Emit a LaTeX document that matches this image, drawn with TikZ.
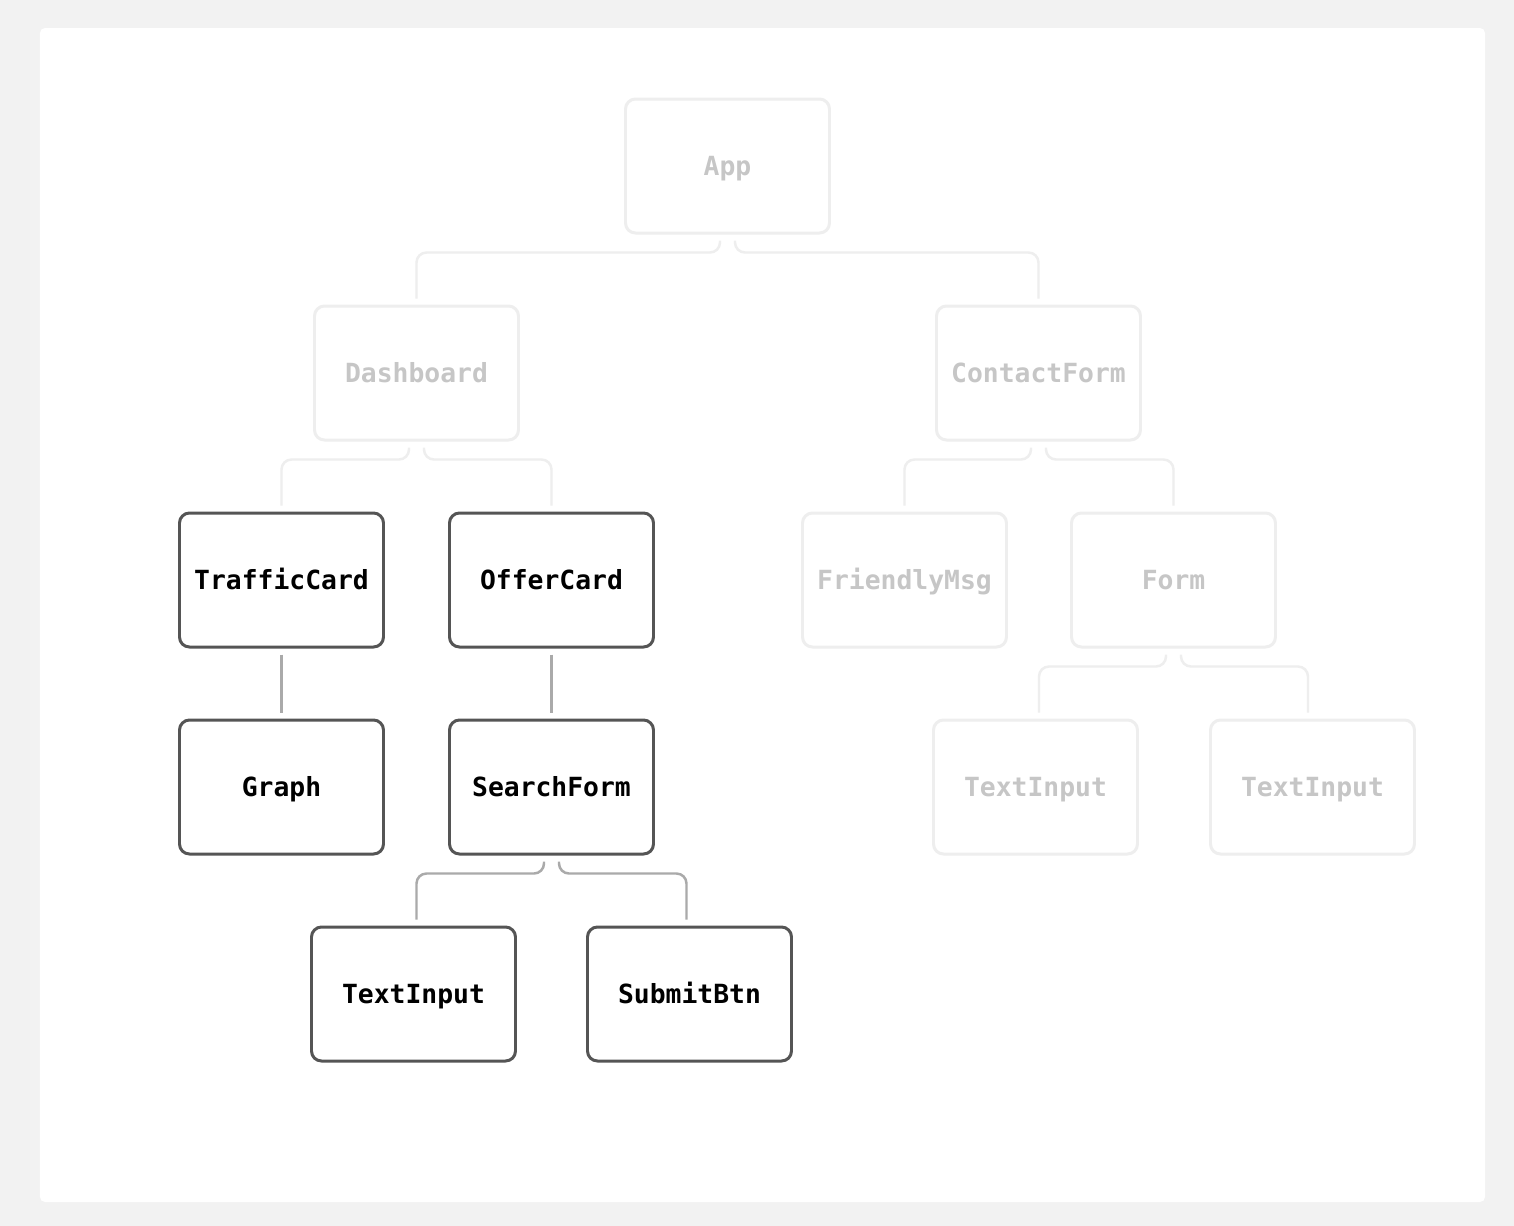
\documentclass[tikz,border=0pt]{standalone}
\usepackage{fontspec}
\setmonofont{DejaVu Sans Mono}
\usetikzlibrary{shapes, arrows}
\definecolor{pagegray}{HTML}{F2F2F2}
\definecolor{darkedge}{HTML}{555555}
\definecolor{darkwire}{HTML}{AAAAAA}
\definecolor{paleedge}{HTML}{EEEEEE}
\definecolor{paletext}{HTML}{C6C6C6}

\begin{document}
\begin{tikzpicture}[node distance=2.07cm, auto]
    \tikzstyle{comp} = [rectangle, draw=darkedge, line width=0.85pt, fill=white, rounded corners=0.1cm, minimum width=2.04cm, minimum height=1.34cm, text height=5.5pt, text depth=0pt, font=\fontsize{7.5}{9}\selectfont\ttfamily\bfseries, text=black]
    \tikzstyle{pale} = [comp, draw=paleedge, text=paletext]
    \tikzstyle{wire} = [draw=darkwire, line width=0.7pt, rounded corners=0.1cm]
    \tikzstyle{palewire} = [wire, draw=paleedge]

    % Page
    \fill[pagegray] (0,0) rectangle (15.14,-12.26);
    \fill[white, rounded corners=0.05cm] (0.40,-0.28) rectangle (14.85,-12.02);

    % Nodes
    \node [pale] (app) at (7.275,-1.66) {App};
    \node [pale, below of=app, xshift=-3.11cm] (dashboard) {Dashboard};
    \node [pale, below of=app, xshift=3.11cm] (contact) {ContactForm};

    \node [comp, below of=dashboard, xshift=-1.35cm] (traffic) {TrafficCard};
    \node [comp, below of=dashboard, xshift=1.35cm] (offer) {OfferCard};
    \node [pale, below of=contact, xshift=-1.34cm] (friendly) {FriendlyMsg};
    \node [pale, below of=contact, xshift=1.35cm] (form) {Form};

    \node [comp, below of=traffic] (graph) {Graph};
    \node [comp, below of=offer] (search) {SearchForm};
    \node [pale, below of=form, xshift=-1.38cm] (forminputa) {TextInput};
    \node [pale, below of=form, xshift=1.39cm] (forminputb) {TextInput};

    \node [comp, below of=search, xshift=-1.38cm] (searchinput) {TextInput};
    \node [comp, below of=search, xshift=1.38cm] (submit) {SubmitBtn};

    % Paths
    \path [palewire] ([xshift=-0.075cm, yshift=-0.06cm]app.south) -- ++(0,-0.12) -| ([yshift=0.06cm]dashboard.north);
    \path [palewire] ([xshift=0.075cm, yshift=-0.06cm]app.south) -- ++(0,-0.12) -| ([yshift=0.06cm]contact.north);
    \path [palewire] ([xshift=-0.075cm, yshift=-0.06cm]dashboard.south) -- ++(0,-0.12) -| ([yshift=0.06cm]traffic.north);
    \path [palewire] ([xshift=0.075cm, yshift=-0.06cm]dashboard.south) -- ++(0,-0.12) -| ([yshift=0.06cm]offer.north);
    \path [palewire] ([xshift=-0.075cm, yshift=-0.06cm]contact.south) -- ++(0,-0.12) -| ([yshift=0.06cm]friendly.north);
    \path [palewire] ([xshift=0.075cm, yshift=-0.06cm]contact.south) -- ++(0,-0.12) -| ([yshift=0.06cm]form.north);
    \path [palewire] ([xshift=-0.075cm, yshift=-0.06cm]form.south) -- ++(0,-0.12) -| ([xshift=0.035cm, yshift=0.06cm]forminputa.north);
    \path [palewire] ([xshift=0.075cm, yshift=-0.06cm]form.south) -- ++(0,-0.12) -| ([xshift=-0.045cm, yshift=0.06cm]forminputb.north);

    \path [wire] ([yshift=-0.06cm]traffic.south) -- ([yshift=0.06cm]graph.north);
    \path [wire] ([yshift=-0.06cm]offer.south) -- ([yshift=0.06cm]search.north);
    \path [wire] ([xshift=-0.075cm, yshift=-0.06cm]search.south) -- ++(0,-0.12) -| ([xshift=0.03cm, yshift=0.06cm]searchinput.north);
    \path [wire] ([xshift=0.075cm, yshift=-0.06cm]search.south) -- ++(0,-0.12) -| ([xshift=-0.03cm, yshift=0.06cm]submit.north);

\end{tikzpicture}
\end{document}
